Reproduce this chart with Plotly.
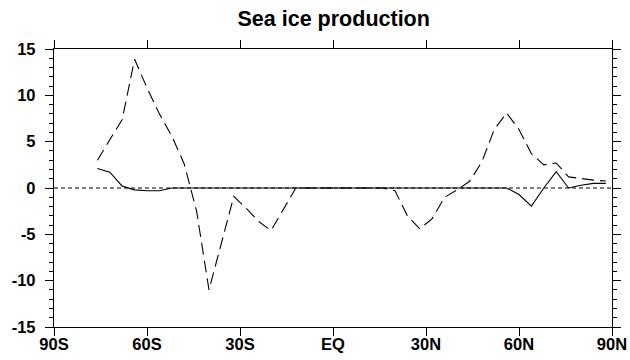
import plotly.graph_objects as go

lats = [-76, -72, -68, -64, -60, -56, -52, -48, -44, -40, -36, -32, -28, -24, -20, -16, -12,
        -8, -4, 0, 4, 8, 12, 16, 20, 24, 28, 32, 36, 40, 44, 48, 52, 56, 60, 64, 68, 72, 76, 80, 84, 88]
dashed_vals = [3.0, 5.2, 7.4, 13.9, 10.8, 8.0, 5.6, 2.6, -2.5, -11.0, -5.8, -0.9, -2.2, -3.6, -4.6, -2.3, 0.0,
               0.0, 0.0, 0.0, 0.0, 0.0, 0.0, 0.0, -0.3, -3.0, -4.4, -3.3, -1.0, -0.2, 0.7, 2.8, 6.3, 8.1, 6.3, 3.7, 2.5, 2.7, 1.2, 1.0, 0.85, 0.75]
solid_vals = [2.1, 1.7, 0.2, -0.2, -0.3, -0.3, 0.0, 0.0, 0.0, 0.0, 0.0, 0.0, 0.0, 0.0, 0.0, 0.0, 0.0,
              0.0, 0.0, 0.0, 0.0, 0.0, 0.0, 0.0, 0.0, 0.0, 0.0, 0.0, 0.0, 0.0, 0.0, 0.0, 0.0, 0.0, -0.7, -1.95, 0.0, 1.75, 0.0, 0.3, 0.5, 0.5]
xtick_vals = [-90, -60, -30, 0, 30, 60, 90]
xtick_text = ["90S", "60S", "30S", "EQ", "30N", "60N", "90N"]
ytick_vals = [-15, -10, -5, 0, 5, 10, 15]

fig = go.Figure()
fig.add_trace(go.Scatter(x=[-90, 90], y=[0, 0], mode="lines",
                         line=dict(color="black", width=1, dash="4px,3px"), hoverinfo="skip"))
fig.add_trace(go.Scatter(x=lats, y=solid_vals, mode="lines",
                         line=dict(color="black", width=1.1)))
fig.add_trace(go.Scatter(x=lats, y=dashed_vals, mode="lines",
                         line=dict(color="black", width=1.1, dash="12px,6px")))

axis_common = dict(showgrid=False, zeroline=False, showline=True, linecolor="black", linewidth=1.3,
                   mirror="ticks", ticks="outside", tickcolor="black", tickwidth=1.2, automargin=False,
                   tickfont=dict(family="Liberation Sans, Arial, sans-serif", size=16.5, color="black"))

fig.update_layout(
    width=630, height=360,
    margin=dict(l=54, r=18, t=49, b=33),
    paper_bgcolor="white", plot_bgcolor="white",
    showlegend=False,
    title=dict(text="<b>Sea ice production</b>", x=0.5297, xanchor="center", y=0.95, yanchor="middle",
               font=dict(family="Liberation Sans, Arial, sans-serif", size=21.5, color="black")),
    xaxis=dict(range=[-90, 90], tickmode="array", tickvals=xtick_vals,
               ticktext=["<b>%s</b>" % t for t in xtick_text], ticklen=8, ticklabelstandoff=-6,
               **axis_common),
    yaxis=dict(range=[-15, 15], tickmode="array", tickvals=ytick_vals,
               ticktext=["<b>%d</b>" % v for v in ytick_vals], ticklen=8, ticklabelstandoff=6,
               minor=dict(dtick=1, ticklen=4, ticks="outside", tickcolor="black", tickwidth=1),
               **axis_common),
)

fig.write_html("out.html")
